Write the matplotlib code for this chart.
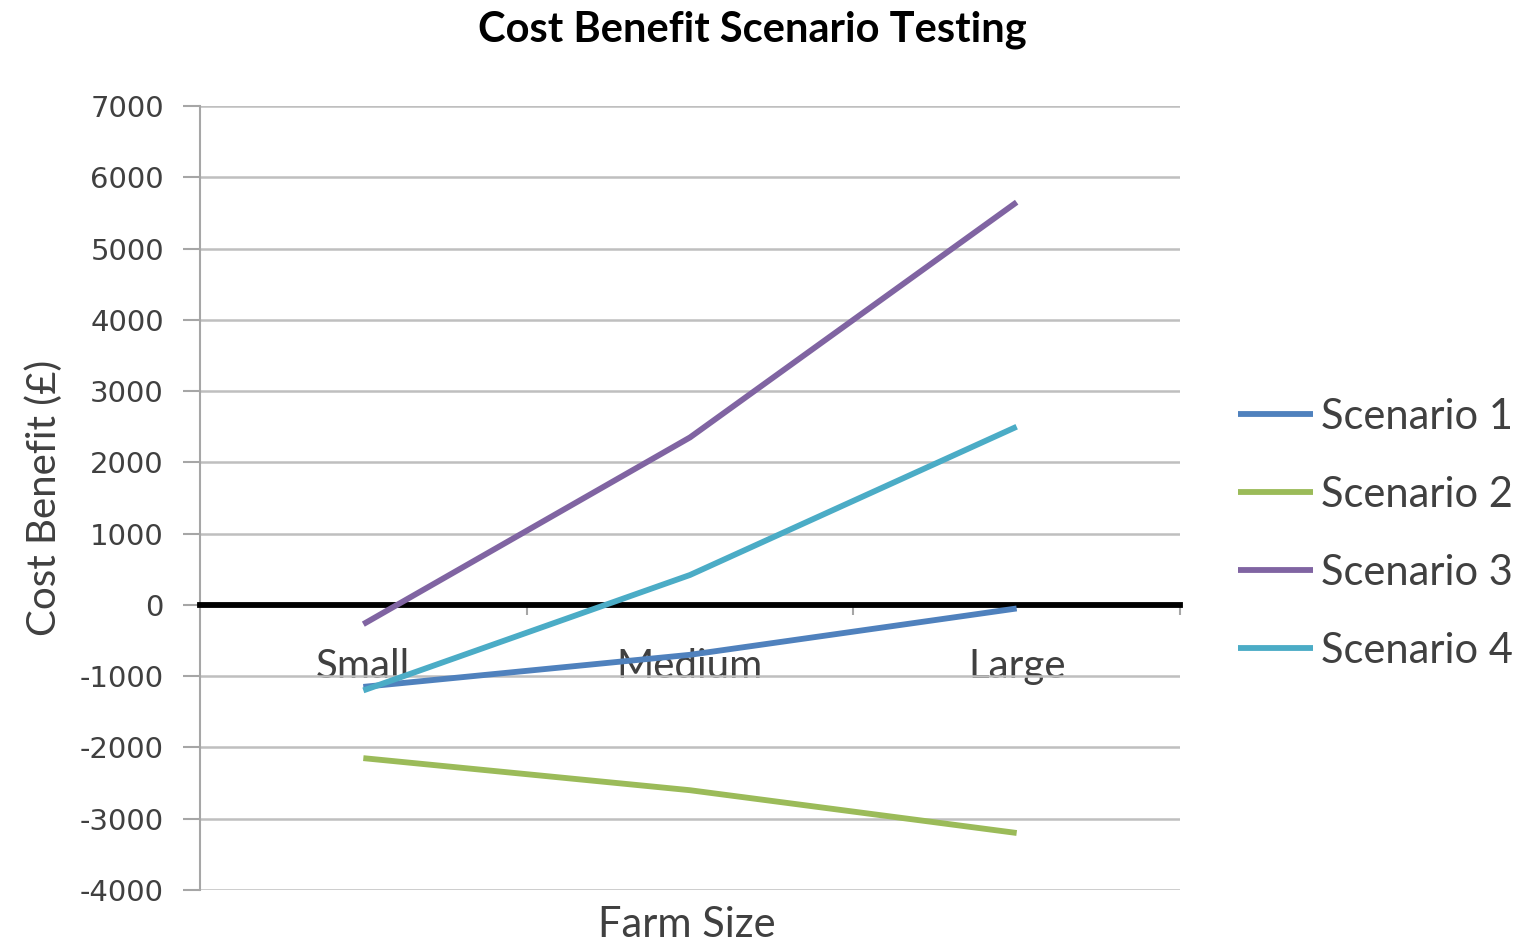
import numpy as np
import matplotlib
matplotlib.use("Agg")
import matplotlib.pyplot as plt

# data
categories = ["Small", "Medium", "Large"]
scenario_1 = [-1150, -700, -50]
scenario_2 = [-2150, -2600, -3200]
scenario_3 = [-270, 2350, 5650]
scenario_4 = [-1200, 420, 2500]
series_names = ["Scenario 1", "Scenario 2", "Scenario 3", "Scenario 4"]
series_colors = ["#4F81BD", "#9BBB59", "#8064A2", "#4BACC6"]
y_ticks = [-4000, -3000, -2000, -1000, 0, 1000, 2000, 3000, 4000, 5000, 6000, 7000]

plt.rcParams["font.family"] = ["Lato", "DejaVu Sans"]

fig = plt.figure(figsize=(15.22, 9.46), dpi=100)
ax = fig.add_axes([200 / 1522, 56 / 946, 980 / 1522, 784 / 946])

x = np.arange(len(categories)) + 0.5
for vals, name, col in zip([scenario_1, scenario_2, scenario_3, scenario_4],
                           series_names, series_colors):
    ax.plot(x, vals, color=col, lw=4.2, label=name, zorder=3,
            solid_capstyle="butt")

ax.set_xlim(0, len(categories))
ax.set_ylim(min(y_ticks), max(y_ticks))
ax.set_yticks(y_ticks)
ax.set_yticklabels([str(v) for v in y_ticks], fontsize=21, color="#404040",
                   family="DejaVu Sans")
ax.yaxis.grid(True, color="#BFBFBF", lw=1.8)
ax.set_axisbelow(True)

# category axis crosses at zero
ax.spines["bottom"].set_position(("data", 0))
ax.spines["bottom"].set_color("black")
ax.spines["bottom"].set_linewidth(4.2)
ax.spines["top"].set_visible(False)
ax.spines["right"].set_visible(False)
ax.spines["left"].set_color("#A6A6A6")
ax.spines["left"].set_linewidth(1.5)

ax.set_xticks(x)
ax.set_xticklabels(categories, fontsize=29, color="#404040")
ax.tick_params(axis="x", which="major", length=0, pad=31)
ax.set_xticks(np.arange(1, len(categories) + 1), minor=True)
ax.tick_params(axis="x", which="minor", length=7, width=1.5, color="#A6A6A6",
               direction="out")
ax.tick_params(axis="y", length=12, width=1.5, color="#A6A6A6", pad=14)

ax.set_ylabel("Cost Benefit (£)", fontsize=29, color="#404040", labelpad=12)
fig.text(687 / 1522, 1 - 925 / 946, "Farm Size", fontsize=30, color="#404040",
         ha="center", va="center")
fig.text(752 / 1522, 1 - 30 / 946, "Cost Benefit Scenario Testing",
         fontsize=30, fontweight="bold", ha="center", va="center")

ax.legend(loc="center left", bbox_to_anchor=(1200 / 1522, 1 - 534 / 946),
          bbox_transform=fig.transFigure, frameon=False, fontsize=30,
          handlelength=1.8, handletextpad=0.2, labelspacing=0.96,
          labelcolor="#404040")

fig.savefig("out.png", dpi=100)
